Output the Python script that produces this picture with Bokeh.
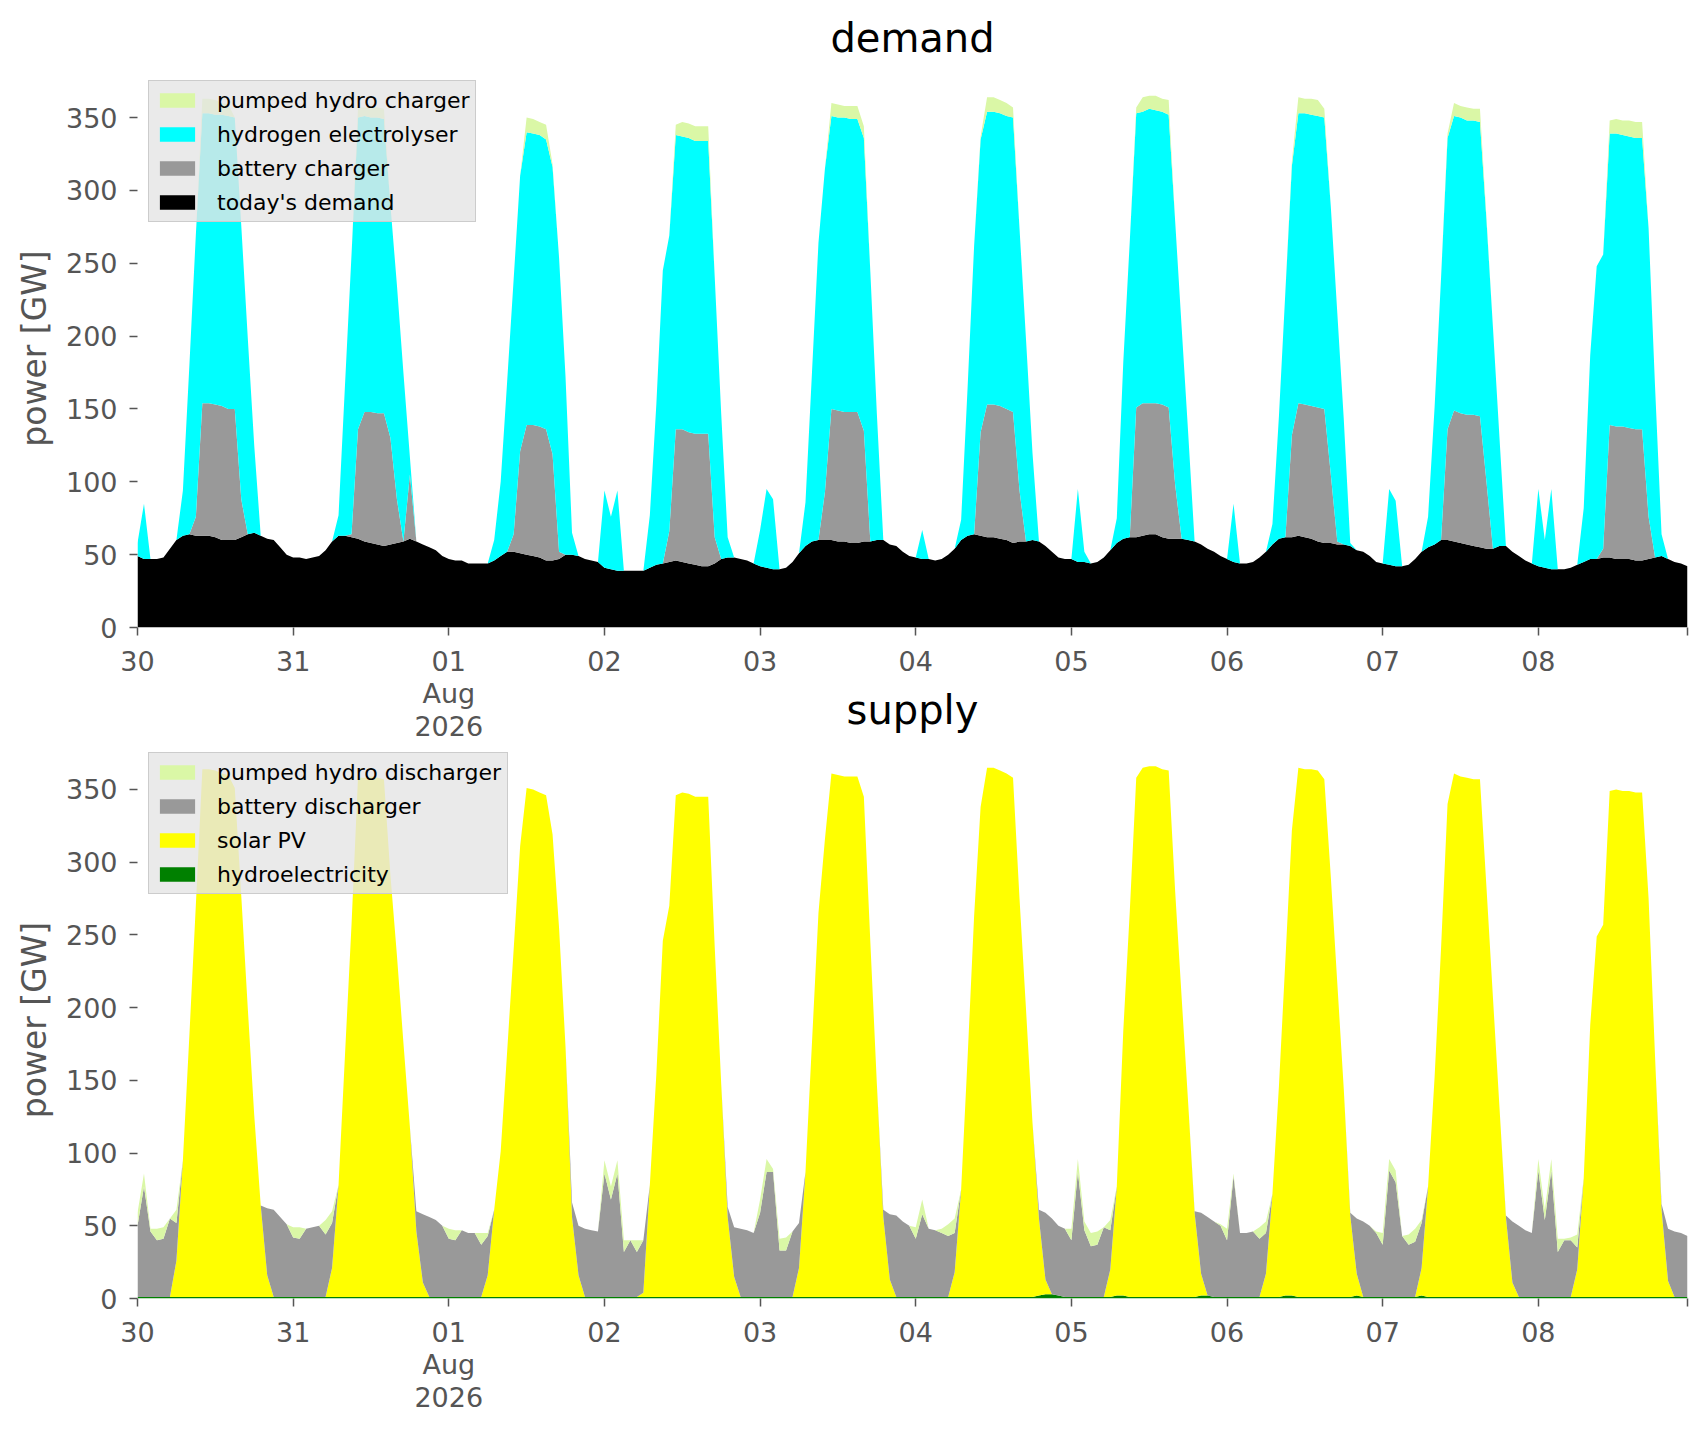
import pandas as pd
from bokeh.plotting import figure
from bokeh.models import ColumnDataSource, Range1d, FixedTicker, Legend, LegendItem
from bokeh.layouts import column
from bokeh.embed import file_html
from bokeh.resources import INLINE

# ---------------- data (hourly, 30 Jul 2026 00:00 .. 08 Aug 2026 23:00) ----------------
start_time = "2026-07-30 00:00"
n_hours = 240

day_tick_labels = ["30", "31", "01\nAug\n2026", "02", "03", "04", "05", "06", "07", "08"]
y_tick_values = [0, 50, 100, 150, 200, 250, 300, 350]

today_demand = [
    49,47,47,47,48,54,60,63,64,63,63,63,62,60,60,60,62,64,65,63,61,60,55,50,
    48,48,47,48,49,53,59,63,63,62,61,59,58,57,56,57,58,59,61,59,57,55,53,49,
    47,46,46,44,44,44,44,46,49,52,52,51,50,49,48,46,46,47,50,50,49,47,46,45,
    41,40,39,39,39,39,39,41,43,44,45,46,45,44,43,42,42,44,47,48,48,47,46,44,
    42,41,40,40,41,45,51,56,59,60,60,60,59,59,58,58,59,59,60,60,57,56,52,49,
    48,47,47,46,47,50,54,60,63,64,63,62,62,61,60,58,59,59,60,59,56,52,48,47,
    47,45,45,44,45,48,53,58,61,62,62,63,64,64,62,61,61,61,60,59,57,54,52,49,
    47,45,44,44,45,48,52,57,61,62,62,63,62,61,59,58,58,57,57,56,53,52,49,45,
    44,43,42,42,43,47,52,55,57,60,60,59,58,57,56,55,54,54,56,56,52,49,46,44,
    42,41,40,40,40,41,43,45,47,47,48,48,47,47,47,46,46,47,48,49,47,45,44,42,
]
battery_charger = [
    0,0,0,0,0,0,0,0,0,13,91,91,91,92,90,90,26,0,0,0,0,0,0,0,
    0,0,0,0,0,0,0,0,0,2,75,89,90,90,91,73,30,0,44,0,0,0,0,0,
    0,0,0,0,0,0,0,0,0,0,12,70,89,90,90,90,73,5,0,0,0,0,0,0,
    0,0,0,0,0,0,0,0,0,0,21,90,91,90,90,91,91,18,0,0,0,0,0,0,
    0,0,0,0,0,0,0,0,0,0,33,90,90,89,90,90,76,0,0,0,0,0,0,0,
    0,0,0,0,0,0,0,0,0,0,71,91,91,91,90,90,35,0,0,0,0,0,0,0,
    0,0,0,0,0,0,0,0,0,0,89,91,90,90,91,90,37,0,0,0,0,0,0,0,
    0,0,0,0,0,0,0,0,0,0,70,91,91,91,92,92,47,2,0,0,0,0,0,0,
    0,0,0,0,0,0,0,0,0,0,76,90,89,89,90,90,46,0,0,0,0,0,0,0,
    0,0,0,0,0,0,0,0,0,0,6,91,91,91,90,90,90,29,0,0,0,0,0,0,
]
hydrogen_electrolyser = [
    9,38,0,0,0,0,0,31,116,194,199,199,199,200,201,200,188,135,60,0,0,0,0,0,
    0,0,0,0,0,0,0,14,104,192,214,203,202,203,202,160,147,116,12,0,0,0,0,0,
    0,0,0,0,0,0,0,14,51,117,175,189,201,200,200,199,197,202,122,15,0,0,0,0,
    53,36,55,0,0,0,0,36,110,201,203,202,201,202,201,201,201,179,100,14,0,0,0,0,
    25,54,48,0,0,0,0,30,116,204,222,201,201,202,201,201,201,185,87,0,0,0,0,0,
    0,20,0,0,0,0,0,14,102,198,201,201,201,201,201,202,180,139,60,0,0,0,0,0,
    0,50,7,0,0,0,0,17,121,203,202,200,202,201,201,201,181,145,74,0,0,0,0,0,
    0,40,0,0,0,0,0,14,84,169,185,199,200,200,200,200,184,157,86,2,0,0,0,0,
    0,52,45,0,0,0,0,21,94,180,200,202,203,202,202,202,180,152,75,0,0,0,0,0,
    53,19,55,0,0,0,0,37,140,201,202,200,201,200,200,200,200,198,117,15,0,0,0,0,
]
pumped_hydro_charger = [
    0,0,0,0,0,0,0,0,0,0,10,10,10,8,8,0,0,0,0,0,0,0,0,0,
    0,0,0,0,0,0,0,0,0,0,7,6,8,7,7,0,0,0,0,0,0,0,0,0,
    0,0,0,0,0,0,0,0,0,0,0,0,10,10,9,10,2,0,0,0,0,0,0,0,
    0,0,0,0,0,0,0,0,0,0,0,7,10,10,10,10,10,0,0,0,0,0,0,0,
    0,0,0,0,0,0,0,0,0,0,0,9,9,8,9,9,8,0,0,0,0,0,0,0,
    0,0,0,0,0,0,0,0,0,0,2,10,10,9,9,7,0,0,0,0,0,0,0,0,
    0,0,0,0,0,0,0,0,0,0,4,10,9,10,9,10,0,0,0,0,0,0,0,0,
    0,0,0,0,0,0,0,0,0,0,3,11,10,11,11,6,0,0,0,0,0,0,0,0,
    0,0,0,0,0,0,0,0,0,0,3,9,8,9,8,9,2,0,0,0,0,0,0,0,
    0,0,0,0,0,0,0,0,0,0,0,9,10,10,11,11,11,0,0,0,0,0,0,0,
]

hydroelectricity = [
    1,1,1,1,1,1,1,1,1,1,1,1,1,1,1,1,1,1,1,1,1,1,1,1,
    1,1,1,1,1,1,1,1,1,1,1,1,1,1,1,1,1,1,1,1,1,1,1,1,
    1,1,1,1,1,1,1,1,1,1,1,1,1,1,1,1,1,1,1,1,1,1,1,1,
    1,1,1,1,1,1,1,1,1,1,1,1,1,1,1,1,1,1,1,1,1,1,1,1,
    1,1,1,1,1,1,1,1,1,1,1,1,1,1,1,1,1,1,1,1,1,1,1,1,
    1,1,1,1,1,1,1,1,1,1,1,1,1,1,1,1,1,1,1,2,3,3,2,1,
    1,1,1,1,1,1,1,2,2,1,1,1,1,1,1,1,1,1,1,1,2,2,1,1,
    1,1,1,1,1,1,1,1,1,2,2,1,1,1,1,1,1,1,1,1,2,1,1,1,
    1,1,1,1,1,1,2,1,1,1,1,1,1,1,1,1,1,1,1,1,1,1,1,1,
    1,1,1,1,1,1,1,1,1,1,1,1,1,1,1,1,1,1,1,1,1,1,1,1,
]
solar_pv = [
    0,0,0,0,0,0,25,94,180,270,363,363,362,360,359,350,276,199,125,63,15,0,0,0,
    0,0,0,0,0,0,20,77,167,256,357,357,358,357,356,290,235,175,117,45,10,0,0,0,
    0,0,0,0,0,0,15,60,100,169,239,310,350,349,347,345,318,254,172,55,15,0,0,0,
    0,0,0,0,0,0,3,77,153,245,269,345,347,346,344,344,344,241,147,55,14,0,0,0,
    0,0,0,0,0,0,20,86,175,264,315,360,359,358,358,358,344,244,147,55,12,0,0,0,
    0,0,0,0,0,0,17,74,165,262,337,364,364,362,360,357,274,198,120,53,10,0,0,0,
    0,0,0,0,0,0,19,75,182,265,357,364,365,365,363,362,279,206,134,58,15,0,0,0,
    0,0,0,0,0,0,16,71,145,231,320,364,363,363,362,356,289,216,143,56,15,0,0,0,
    0,0,0,0,0,0,19,76,151,240,339,360,358,357,356,356,282,206,131,55,10,0,0,0,
    0,0,0,0,0,0,19,82,187,248,256,348,349,348,348,347,347,274,165,60,11,0,0,0,
]
battery_discharger = [
    49,76,45,39,40,54,26,0,0,0,0,0,0,0,0,0,0,0,0,0,46,60,55,50,
    41,40,47,48,49,43,31,0,0,0,0,0,0,0,0,0,0,0,0,14,47,55,53,49,
    40,39,46,44,44,36,27,0,0,0,0,0,0,0,0,0,0,0,0,10,34,47,46,45,
    85,67,85,31,39,31,36,0,0,0,0,0,0,0,0,0,0,0,0,7,34,47,46,44,
    58,86,86,32,32,45,31,0,0,0,0,0,0,0,0,0,0,0,0,5,45,56,52,49,
    40,57,47,46,44,42,27,0,0,0,0,0,0,0,0,0,0,0,0,6,46,52,48,47,
    39,86,46,35,36,48,27,0,0,0,0,0,0,0,0,0,0,0,0,1,42,54,52,49,
    39,83,44,44,45,40,28,0,0,0,0,0,0,0,0,0,0,0,0,2,38,52,49,44,
    36,87,79,42,36,38,31,0,0,0,0,0,0,0,0,0,0,0,0,1,42,49,46,44,
    87,53,87,31,39,39,15,0,0,0,0,0,0,0,0,0,0,0,0,4,36,45,44,42,
]
pumped_hydro_discharger = [
    9,9,2,8,8,0,9,0,0,0,0,0,0,0,0,0,0,0,0,0,0,0,0,0,
    7,8,0,0,0,10,8,0,0,0,0,0,0,0,0,0,0,0,0,0,0,0,0,0,
    7,7,0,0,0,8,2,0,0,0,0,0,0,0,0,0,0,0,0,0,0,0,0,0,
    9,9,9,8,0,8,0,0,0,0,0,0,0,0,0,0,0,0,0,0,0,0,0,0,
    9,9,2,8,9,0,0,0,0,0,0,0,0,0,0,0,0,0,0,0,0,0,0,0,
    8,10,0,0,3,8,10,0,0,0,0,0,0,0,0,0,0,0,0,0,0,0,0,0,
    8,9,6,9,9,0,7,0,0,0,0,0,0,0,0,0,0,0,0,0,0,0,0,1,
    8,2,0,0,0,8,8,0,0,0,0,0,0,0,0,0,0,0,0,0,0,0,0,1,
    8,8,8,0,7,9,2,0,0,0,0,0,0,0,0,0,0,0,0,0,0,0,0,0,
    8,7,8,9,1,2,9,0,0,0,0,0,0,0,0,0,0,0,0,0,0,0,0,0,
]

demand_names = ["today's demand", "battery charger", "hydrogen electrolyser", "pumped hydro charger"]
demand_colors = ["#000000", "#999999", "#00ffff", "#daf7a6"]
supply_names = ["hydroelectricity", "solar PV", "battery discharger", "pumped hydro discharger"]
supply_colors = ["#008000", "#ffff00", "#999999", "#daf7a6"]

# ---------------- build ----------------
times = pd.date_range(start_time, periods=n_hours, freq="h")
day_ticks = pd.date_range(start_time, periods=len(day_tick_labels), freq="D")

src = ColumnDataSource(dict(
    t=times,
    d0=today_demand, d1=battery_charger, d2=hydrogen_electrolyser, d3=pumped_hydro_charger,
    s0=hydroelectricity, s1=solar_pv, s2=battery_discharger, s3=pumped_hydro_discharger,
))


def to_ms(ts):
    return float(ts.value // 10**6)


tick_ms = [to_ms(t) for t in day_ticks] + [to_ms(times[-1])]
overrides = {to_ms(t): lab for t, lab in zip(day_ticks, day_tick_labels)}
overrides[to_ms(times[-1])] = ""

GREY = "#555555"
FONT = "DejaVu Sans"
FRAME_W = 1550
BORDER_L = 137
BORDER_R = 13
BORDER_B = 118


def make_fig(title, stack_keys, names, colors, top_border, frame_h, extra):
    p = figure(width=BORDER_L + FRAME_W + BORDER_R, height=top_border + frame_h + BORDER_B,
               x_axis_type="datetime", output_backend="svg", toolbar_location=None,
               x_range=Range1d(times[0], times[-1]), y_range=Range1d(0, 383),
               min_border_left=BORDER_L, min_border_right=BORDER_R, min_border_top=top_border,
               min_border_bottom=BORDER_B, title=title, **extra)
    rs = p.varea_stack(stackers=stack_keys, x="t", color=colors, source=src)

    p.title.text_font = FONT
    p.title.text_font_size = "40px"
    p.title.text_font_style = "normal"
    p.title.text_color = "black"
    p.title.align = "center"
    p.title.standoff = 17

    p.outline_line_color = None
    p.background_fill_color = "white"
    p.xgrid.visible = False
    p.ygrid.visible = False

    xa = p.xaxis[0]
    xa.ticker = FixedTicker(ticks=tick_ms)
    xa.major_label_overrides = overrides
    ya = p.yaxis[0]
    ya.ticker = FixedTicker(ticks=y_tick_values)
    ya.axis_label = "power [GW]"
    for ax in (xa, ya):
        ax.axis_line_color = None
        ax.major_tick_line_color = GREY
        ax.major_tick_line_width = 1.5
        ax.major_tick_out = 8
        ax.major_tick_in = 0
        ax.minor_tick_line_color = None
        ax.major_label_text_font = FONT
        ax.major_label_text_font_size = "27px"
        ax.major_label_text_color = GREY
    xa.major_label_standoff = 10
    ya.major_label_standoff = 12
    xa.major_label_text_line_height = 1.05
    ya.axis_label_text_font = FONT
    ya.axis_label_text_font_size = "33px"
    ya.axis_label_text_font_style = "normal"
    ya.axis_label_text_color = GREY
    ya.axis_label_standoff = 9

    items = [LegendItem(label=names[i], renderers=[rs[i]]) for i in reversed(range(len(names)))]
    legend = Legend(items=items, location="top_left", margin=11, padding=6, spacing=8,
                    glyph_width=44, glyph_height=18, label_standoff=18, label_height=26,
                    label_text_font=FONT, label_text_font_size="22px", label_text_color="black",
                    background_fill_color="#e5e5e5", background_fill_alpha=0.8,
                    border_line_color="#cccccc", border_line_width=1, border_line_alpha=1.0)
    p.add_layout(legend)
    return p


p1 = make_fig("demand", ["d0", "d1", "d2", "d3"], demand_names, demand_colors, 69, 558, {})
p2 = make_fig("supply", ["s0", "s1", "s2", "s3"], supply_names, supply_colors, 68, 557,
              dict(margin=(-72, 0, 0, 0), border_fill_alpha=0.0))

layout = column(p1, p2, spacing=0)
open("out.html", "w").write(file_html(layout, INLINE))
